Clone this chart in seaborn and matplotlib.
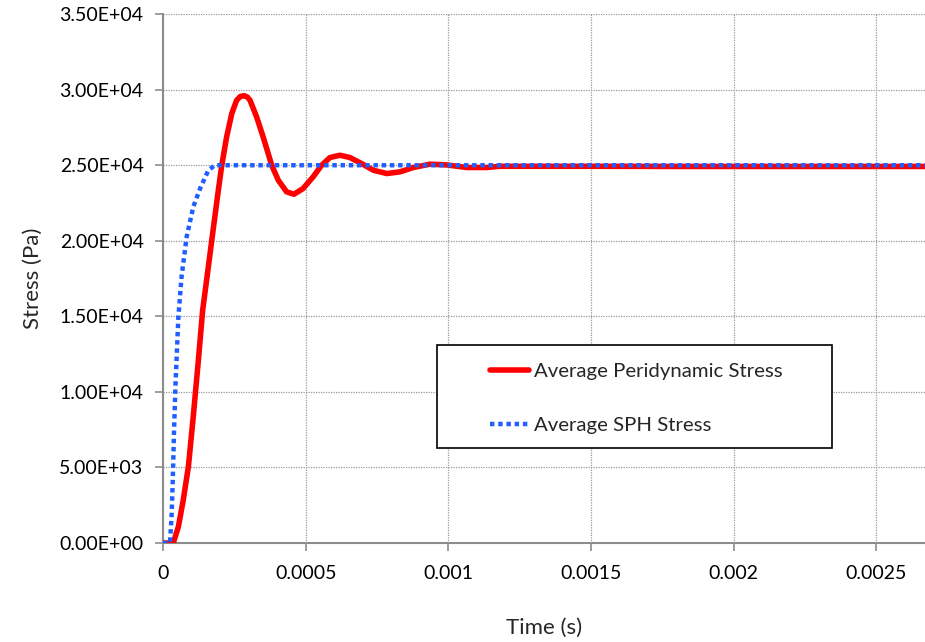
import matplotlib
matplotlib.use("Agg")
import matplotlib.pyplot as plt
import seaborn as sns
import pandas as pd
from matplotlib.ticker import FuncFormatter, MultipleLocator
from matplotlib.patches import Rectangle

# Average Peridynamic Stress
t_pd = [0.0, 0.000036, 0.000054, 0.000071, 0.000089, 0.000106, 0.000124, 0.000139,
        0.000159, 0.000174, 0.000194, 0.000206, 0.000223, 0.000241, 0.000258,
        0.000271, 0.000284, 0.000295, 0.000305, 0.000328, 0.000351, 0.000381, 0.000404,
        0.000433, 0.000459, 0.000491, 0.000526, 0.000556, 0.000585, 0.000620, 0.000655,
        0.000696, 0.000737, 0.000784, 0.000830, 0.000877, 0.000935, 0.000994,
        0.001064, 0.001134, 0.001180, 0.001300, 0.001500, 0.001800, 0.002200, 0.002670]
s_pd = [0.0, 0.0, 1080, 2840, 5050, 8350, 12100, 15400,
        18280, 20480, 23350, 25000, 26870, 28420, 29300,
        29550, 29600, 29520, 29300, 28200, 26870, 25000, 24010,
        23240, 23080, 23460, 24230, 25000, 25510, 25660, 25510,
        25110, 24670, 24450, 24560, 24850, 25070, 25020,
        24850, 24850, 24930, 24930, 24930, 24920, 24920, 24920]

# Average SPH Stress
t_sph = [0.0, 0.0000245, 0.000030, 0.000034, 0.0000385, 0.000044, 0.000054, 0.000065,
         0.000083, 0.000106, 0.000130, 0.000159, 0.000182, 0.000500, 0.001000,
         0.001500, 0.002000, 0.002670]
s_sph = [0.0, 0.0, 1740, 3950, 7260, 10560, 14970, 17610,
         20260, 22240, 23460, 24670, 25000, 25000, 25000,
         25000, 25000, 25000]

pd_df = pd.DataFrame({"t": t_pd, "s": s_pd})
sph_df = pd.DataFrame({"t": t_sph, "s": s_sph})

sns.set_theme(style="white")
plt.rcParams["font.family"] = ["Lato", "DejaVu Sans"]

fig = plt.figure(figsize=(9.25, 6.42), dpi=100)
ax = fig.add_axes([0.1762, 0.1542, 0.8238, 0.8238])

sns.lineplot(data=pd_df, x="t", y="s", ax=ax, color="#ff0000", linewidth=4,
             label="Average Peridynamic Stress", zorder=3)
sns.lineplot(data=sph_df, x="t", y="s", ax=ax, color="#1f5fff", linewidth=3.2,
             linestyle=(0, (1, 0.85)), label="Average SPH Stress", zorder=4)
for ln in ax.get_lines():
    ln.set_solid_joinstyle("round")
    ln.set_solid_capstyle("round")

ax.set_xlim(0, 0.00267)
ax.set_ylim(0, 35000)
ax.xaxis.set_major_locator(MultipleLocator(0.0005))
ax.yaxis.set_major_locator(MultipleLocator(5000))

def yfmt(v, pos):
    return "%.2E" % v
def xfmt(v, pos):
    if abs(v) < 1e-12:
        return "0"
    return ("%.4f" % v).rstrip("0")
ax.yaxis.set_major_formatter(FuncFormatter(yfmt))
ax.xaxis.set_major_formatter(FuncFormatter(xfmt))

ax.grid(True, color="#999999", linestyle=(0, (1, 1)), linewidth=0.9)
for sp in ["top", "right"]:
    ax.spines[sp].set_visible(False)
for sp in ["left", "bottom"]:
    ax.spines[sp].set_color("#8c8c8c")
    ax.spines[sp].set_linewidth(1.5)

ax.tick_params(axis="both", which="major", direction="out", length=6, width=1.2,
               color="#8c8c8c", labelsize=14, labelcolor="black", pad=8,
               left=True, bottom=True)
ax.tick_params(axis="x", pad=10)

ax.set_xlabel("Time (s)", fontsize=16, labelpad=26)
ax.set_ylabel("Stress (Pa)", fontsize=16, labelpad=12)

# legend frame (square box, black border)
ax.add_patch(Rectangle((0.3596, 0.1796), 0.878 - 0.3596, 0.374 - 0.1796,
                       transform=ax.transAxes, facecolor="white", edgecolor="black",
                       linewidth=1.2, zorder=5, clip_on=False))
leg = ax.legend(loc="center left", bbox_to_anchor=(0.4285, 0.274), frameon=False,
                fontsize=14.7, handlelength=1.94, borderpad=0, labelspacing=1.8,
                handletextpad=0.25, borderaxespad=0)
leg.set_zorder(6)

fig.savefig("out.png", dpi=100, facecolor="white")
